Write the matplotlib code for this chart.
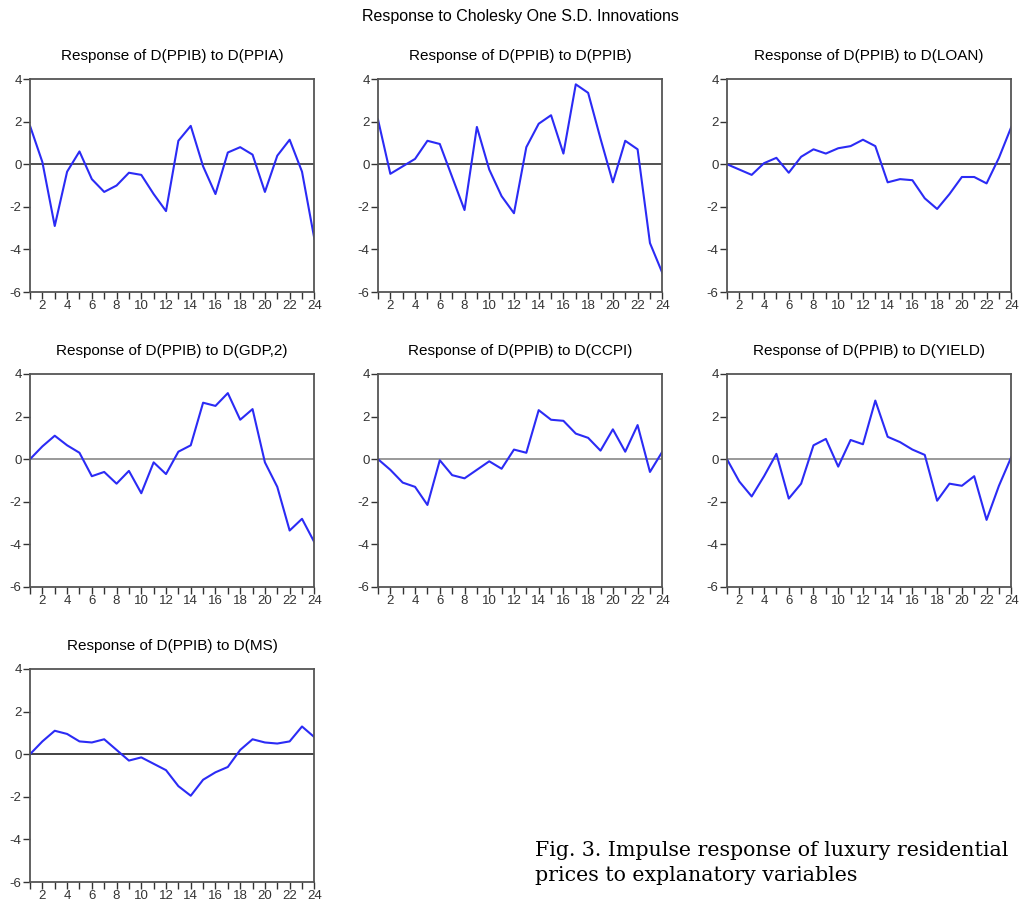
import matplotlib
matplotlib.use("Agg")
import matplotlib.pyplot as plt
import numpy as np

plt.rcParams['font.family'] = ['Liberation Sans', 'DejaVu Sans']
plt.rcParams['axes.unicode_minus'] = False

periods = np.arange(1, 25)

titles = [
    "Response of D(PPIB) to D(PPIA)",
    "Response of D(PPIB) to D(PPIB)",
    "Response of D(PPIB) to D(LOAN)",
    "Response of D(PPIB) to D(GDP,2)",
    "Response of D(PPIB) to D(CCPI)",
    "Response of D(PPIB) to D(YIELD)",
    "Response of D(PPIB) to D(MS)",
]

ppia = [1.8, 0.1, -2.9, -0.35, 0.6, -0.7, -1.3, -1.0, -0.4, -0.5, -1.4, -2.2,
        1.1, 1.8, -0.1, -1.4, 0.55, 0.8, 0.45, -1.3, 0.4, 1.15, -0.35, -3.5]
ppib = [2.1, -0.45, -0.1, 0.25, 1.1, 0.95, -0.6, -2.15, 1.75, -0.25, -1.5, -2.3,
        0.8, 1.9, 2.3, 0.5, 3.75, 3.35, 1.2, -0.85, 1.1, 0.7, -3.7, -5.1]
loan = [0.0, -0.25, -0.5, 0.05, 0.3, -0.4, 0.35, 0.7, 0.5, 0.75, 0.85, 1.15,
        0.85, -0.85, -0.7, -0.75, -1.6, -2.1, -1.4, -0.6, -0.6, -0.9, 0.3, 1.75]
gdp2 = [0.0, 0.6, 1.1, 0.65, 0.3, -0.8, -0.6, -1.15, -0.55, -1.6, -0.15, -0.7,
        0.35, 0.65, 2.65, 2.5, 3.1, 1.85, 2.35, -0.15, -1.3, -3.35, -2.8, -3.9]
ccpi = [0.0, -0.5, -1.1, -1.3, -2.15, -0.05, -0.75, -0.9, -0.5, -0.1, -0.45, 0.45,
        0.3, 2.3, 1.85, 1.8, 1.2, 1.0, 0.4, 1.4, 0.35, 1.6, -0.6, 0.35]
yld = [0.0, -1.05, -1.75, -0.8, 0.25, -1.85, -1.15, 0.65, 0.95, -0.35, 0.9, 0.7,
       2.75, 1.05, 0.8, 0.45, 0.2, -1.95, -1.15, -1.25, -0.8, -2.85, -1.25, 0.1]
ms = [0.0, 0.6, 1.1, 0.95, 0.6, 0.55, 0.7, 0.2, -0.3, -0.15, -0.45, -0.75,
      -1.5, -1.95, -1.2, -0.85, -0.6, 0.2, 0.7, 0.55, 0.5, 0.6, 1.3, 0.8]

series = [ppia, ppib, loan, gdp2, ccpi, yld, ms]
zero_colors = ["#333333", "#333333", "#333333", "#888888", "#888888", "#888888", "#222222"]

# axes boxes in figure fractions (left, bottom, width, height)
lefts = [0.0294, 0.3702, 0.7120]
bottoms = [0.6773, 0.3514, 0.0254]
w, h = 0.2785, 0.2354


def draw_panel(ax, y, title, zc):
    ax.axhline(0, color=zc, lw=1.2, zorder=1)
    ax.plot(periods, y, color="#2b2bf5", lw=1.5, zorder=2)
    ax.set_xlim(1, 24)
    ax.set_ylim(-6, 4)
    ax.set_xticks(periods)
    ax.set_xticklabels([str(p) if p % 2 == 0 else "" for p in periods])
    ax.set_yticks([-6, -4, -2, 0, 2, 4])
    ax.tick_params(direction="out", length=5, width=1, labelsize=9.5,
                   colors="#333333", pad=1)
    for s in ax.spines.values():
        s.set_color("#555555")
        s.set_linewidth(1.3)
    ax.set_title(title, fontsize=11, pad=14)


fig = plt.figure(figsize=(10.21, 9.05), dpi=100)
for i in range(7):
    r, c = divmod(i, 3)
    ax = fig.add_axes([lefts[c], bottoms[r], w, h])
    draw_panel(ax, series[i], titles[i], zero_colors[i])

fig.text(0.51, 0.982, "Response to Cholesky One S.D. Innovations",
         ha="center", va="center", fontsize=11.5)
fig.text(0.524, 0.0465, "Fig. 3. Impulse response of luxury residential\nprices to explanatory variables",
         ha="left", va="center", fontsize=14.8, family="DejaVu Serif",
         linespacing=1.42)

fig.savefig("out.png", dpi=100)
